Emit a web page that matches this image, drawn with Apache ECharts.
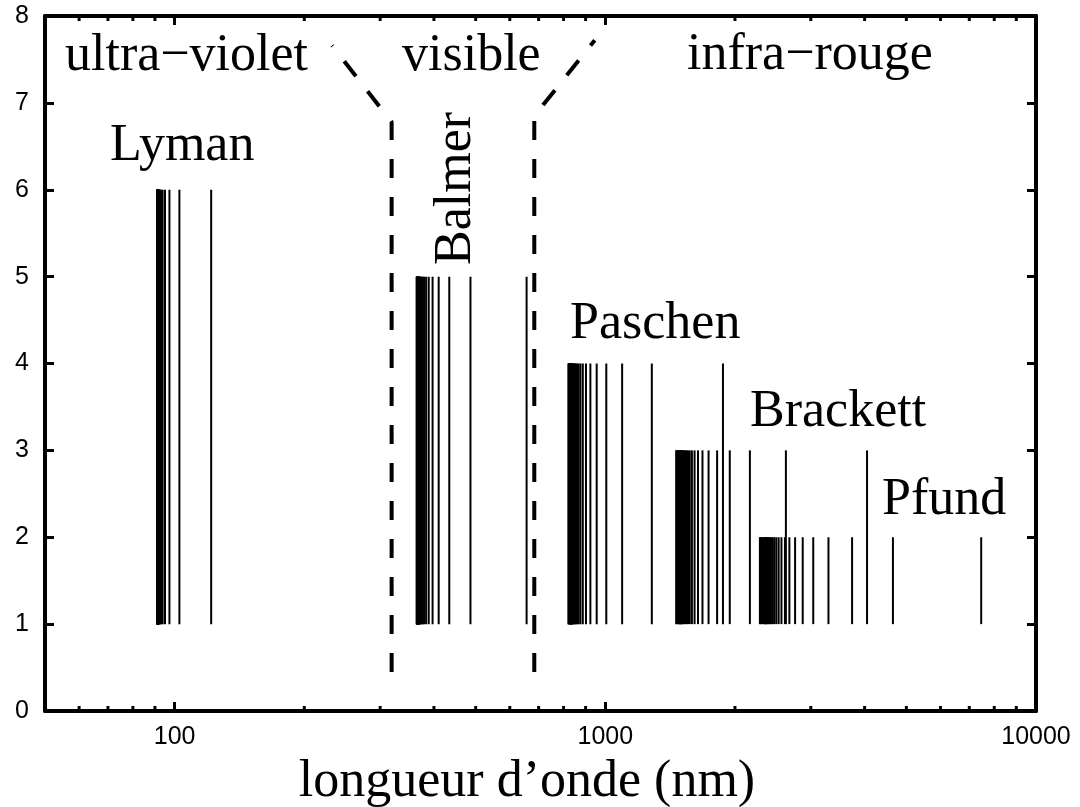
<!DOCTYPE html>
<html>
<head>
<meta charset="utf-8">
<script src="https://cdn.jsdelivr.net/npm/echarts@6/dist/echarts.min.js"></script>
<style>
  html, body { margin: 0; padding: 0; background: #fff; }
  #chart { width: 1080px; height: 807px; }
</style>
</head>
<body>
<div id="chart"></div>
<script>
// Hydrogen emission lines (wavelength in nm), one list per series
const lymanLines = [121.57, 102.57, 97.25, 94.97, 93.78, 93.08, 92.62, 92.32, 92.10, 91.94,
  91.81, 91.72, 91.64, 91.58, 91.53, 91.49, 91.46, 91.43, 91.40, 91.38, 91.37, 91.35,
  91.34, 91.32, 91.31, 91.30, 91.29, 91.29, 91.28, 91.25, 91.23, 91.21, 91.20, 91.19];
const balmerLines = [656.47, 486.27, 434.17, 410.29, 397.12, 389.01, 383.65, 379.90, 377.17,
  375.12, 373.54, 372.30, 371.30, 370.49, 369.82, 369.26, 368.79, 368.38, 368.04, 367.74,
  367.48, 367.25, 367.05, 366.88, 366.71, 366.57, 366.44, 366.33, 365.89, 365.61, 365.28,
  365.00, 364.85];
const paschenLines = [1875.6, 1282.2, 1094.1, 1005.2, 954.9, 923.2, 901.7, 886.5, 875.3, 866.7,
  860.1, 854.8, 850.5, 847.0, 844.0, 841.6, 839.5, 837.7, 836.1, 834.8, 833.6, 832.6, 831.7,
  830.8, 830.1, 829.5, 828.9, 826.7, 825.2, 823.5, 822.1, 821.3];
const brackettLines = [4052.3, 2625.9, 2166.1, 1945.1, 1817.9, 1736.7, 1681.1, 1641.2, 1611.4,
  1588.5, 1570.5, 1556.1, 1544.3, 1534.6, 1526.5, 1519.6, 1513.7, 1508.7, 1504.3, 1500.5,
  1497.1, 1494.2, 1491.5, 1489.2, 1487.1, 1485.2, 1478.1, 1473.5, 1468.2, 1463.6, 1461.1];
const pfundLines = [7460.0, 4653.8, 3740.6, 3297.0, 3039.2, 2873.0, 2758.3, 2675.1, 2612.6,
  2564.3, 2526.1, 2495.3, 2470.0, 2449.0, 2431.4, 2416.4, 2403.6, 2392.5, 2382.8, 2374.4,
  2367.0, 2360.3, 2354.5, 2349.3, 2344.6, 2326.9, 2315.6, 2302.4, 2291.1, 2285.1];

const seriesNames = ['Lyman', 'Balmer', 'Paschen', 'Brackett', 'Pfund'];
const seriesLines = [lymanLines, balmerLines, paschenLines, brackettLines, pfundLines];
const seriesTops = [6, 5, 4, 3, 2];
const lineBase = 1;

// Boundaries between spectral domains (wavelength nm, height)
const uvVisibleBoundary = [[319, 0.45], [319, 6.78], [232, 7.66]];
const visibleIrBoundary = [[684, 0.45], [684, 6.85], [945, 7.72]];

// Axis settings and tick values
const xMin = 50, xMax = 10000;
const yMin = 0, yMax = 8, yStep = 1;
const xMinorTicks = [60, 70, 80, 90, 200, 300, 400, 500, 600, 700, 800, 900,
  2000, 3000, 4000, 5000, 6000, 7000, 8000, 9000];

const xTitle = 'longueur d\u2019onde (nm)';
const domainLabels = ['ultra\u2212violet', 'visible', 'infra\u2212rouge'];

const serif = '"Liberation Serif", "Times New Roman", serif';
const sans = '"Liberation Sans", Arial, Helvetica, sans-serif';
const black = '#000';

const chart = echarts.init(document.getElementById('chart'), null, { renderer: 'canvas' });

function spectralSeries(i) {
  return {
    name: seriesNames[i],
    type: 'custom',
    xAxisIndex: 0,
    yAxisIndex: 0,
    data: seriesLines[i].map(v => [v, seriesTops[i]]),
    renderItem(params, api) {
      const p0 = api.coord([api.value(0), lineBase]);
      const p1 = api.coord([api.value(0), api.value(1)]);
      return {
        type: 'line',
        shape: { x1: p0[0], y1: p0[1], x2: p1[0], y2: p1[1] },
        style: { stroke: black, lineWidth: 2 }
      };
    },
    silent: true
  };
}

function boundarySeries(points) {
  return {
    type: 'line',
    data: points,
    symbol: 'none',
    lineStyle: { color: black, width: 4, type: [19, 19], dashOffset: 0, cap: 'butt' },
    silent: true,
    z: 3
  };
}

const minorTickLen = 5;
const minorTickSeries = {
  type: 'custom',
  data: xMinorTicks.map(v => [v, 0]),
  clip: false,
  renderItem(params, api) {
    const x = api.coord([api.value(0), 0])[0];
    const cs = params.coordSys;
    const yb = cs.y + cs.height;
    const yt = cs.y;
    return {
      type: 'group',
      children: [
        { type: 'line', shape: { x1: x, y1: yb, x2: x, y2: yb - minorTickLen }, style: { stroke: black, lineWidth: 3 } },
        { type: 'line', shape: { x1: x, y1: yt, x2: x, y2: yt + minorTickLen }, style: { stroke: black, lineWidth: 3 } }
      ]
    };
  },
  silent: true,
  z: 5
};

const axisLine = { show: true, onZero: false, lineStyle: { color: black, width: 4 } };
const majorTick = { show: true, inside: true, length: 9, lineStyle: { color: black, width: 3 } };

function powerOfTen(v) {
  const l = Math.log10(v);
  return Math.abs(l - Math.round(l)) < 1e-9 ? String(Math.round(v)) : '';
}

function textEl(text, x, y, extra) {
  return Object.assign({
    type: 'text',
    x: x, y: y,
    style: { text: text, font: '52px ' + serif, fill: black, textAlign: 'left', textVerticalAlign: 'middle' },
    silent: true,
    z: 10
  }, extra || {});
}

const option = {
  animation: false,
  backgroundColor: '#fff',
  grid: { left: 45, right: 44, top: 16, bottom: 96, containLabel: false },
  xAxis: [
    {
      type: 'log', logBase: 10, min: xMin, max: xMax, position: 'bottom',
      axisLine: axisLine, axisTick: majorTick,
      axisLabel: { show: true, formatter: powerOfTen, color: black, fontFamily: sans, fontSize: 25, margin: 14 },
      splitLine: { show: false }, minorTick: { show: false }
    },
    {
      type: 'log', logBase: 10, min: xMin, max: xMax, position: 'top',
      axisLine: axisLine, axisTick: majorTick,
      axisLabel: { show: false }, splitLine: { show: false }
    }
  ],
  yAxis: [
    {
      type: 'value', min: yMin, max: yMax, interval: yStep, position: 'left',
      axisLine: axisLine, axisTick: majorTick,
      axisLabel: { show: true, color: black, fontFamily: sans, fontSize: 25, margin: 16 },
      splitLine: { show: false }
    },
    {
      type: 'value', min: yMin, max: yMax, interval: yStep, position: 'right',
      axisLine: axisLine, axisTick: majorTick,
      axisLabel: { show: false }, splitLine: { show: false }
    }
  ],
  series: [
    ...seriesNames.map((_, i) => spectralSeries(i)),
    boundarySeries(uvVisibleBoundary),
    boundarySeries(visibleIrBoundary),
    minorTickSeries
  ],
  graphic: [
    textEl(domainLabels[0], 65, 56),
    textEl(domainLabels[1], 402, 56),
    textEl(domainLabels[2], 687, 55),
    textEl(seriesNames[0], 110, 146),
    textEl(seriesNames[1], 456, 265, { rotation: Math.PI / 2 }),
    textEl(seriesNames[2], 570, 324),
    textEl(seriesNames[3], 750, 412),
    textEl(seriesNames[4], 882, 500),
    textEl(xTitle, 527, 782, { style: { text: xTitle, font: '52px ' + serif, fill: black, textAlign: 'center', textVerticalAlign: 'middle' } })
  ]
};

chart.setOption(option);
</script>
</body>
</html>
